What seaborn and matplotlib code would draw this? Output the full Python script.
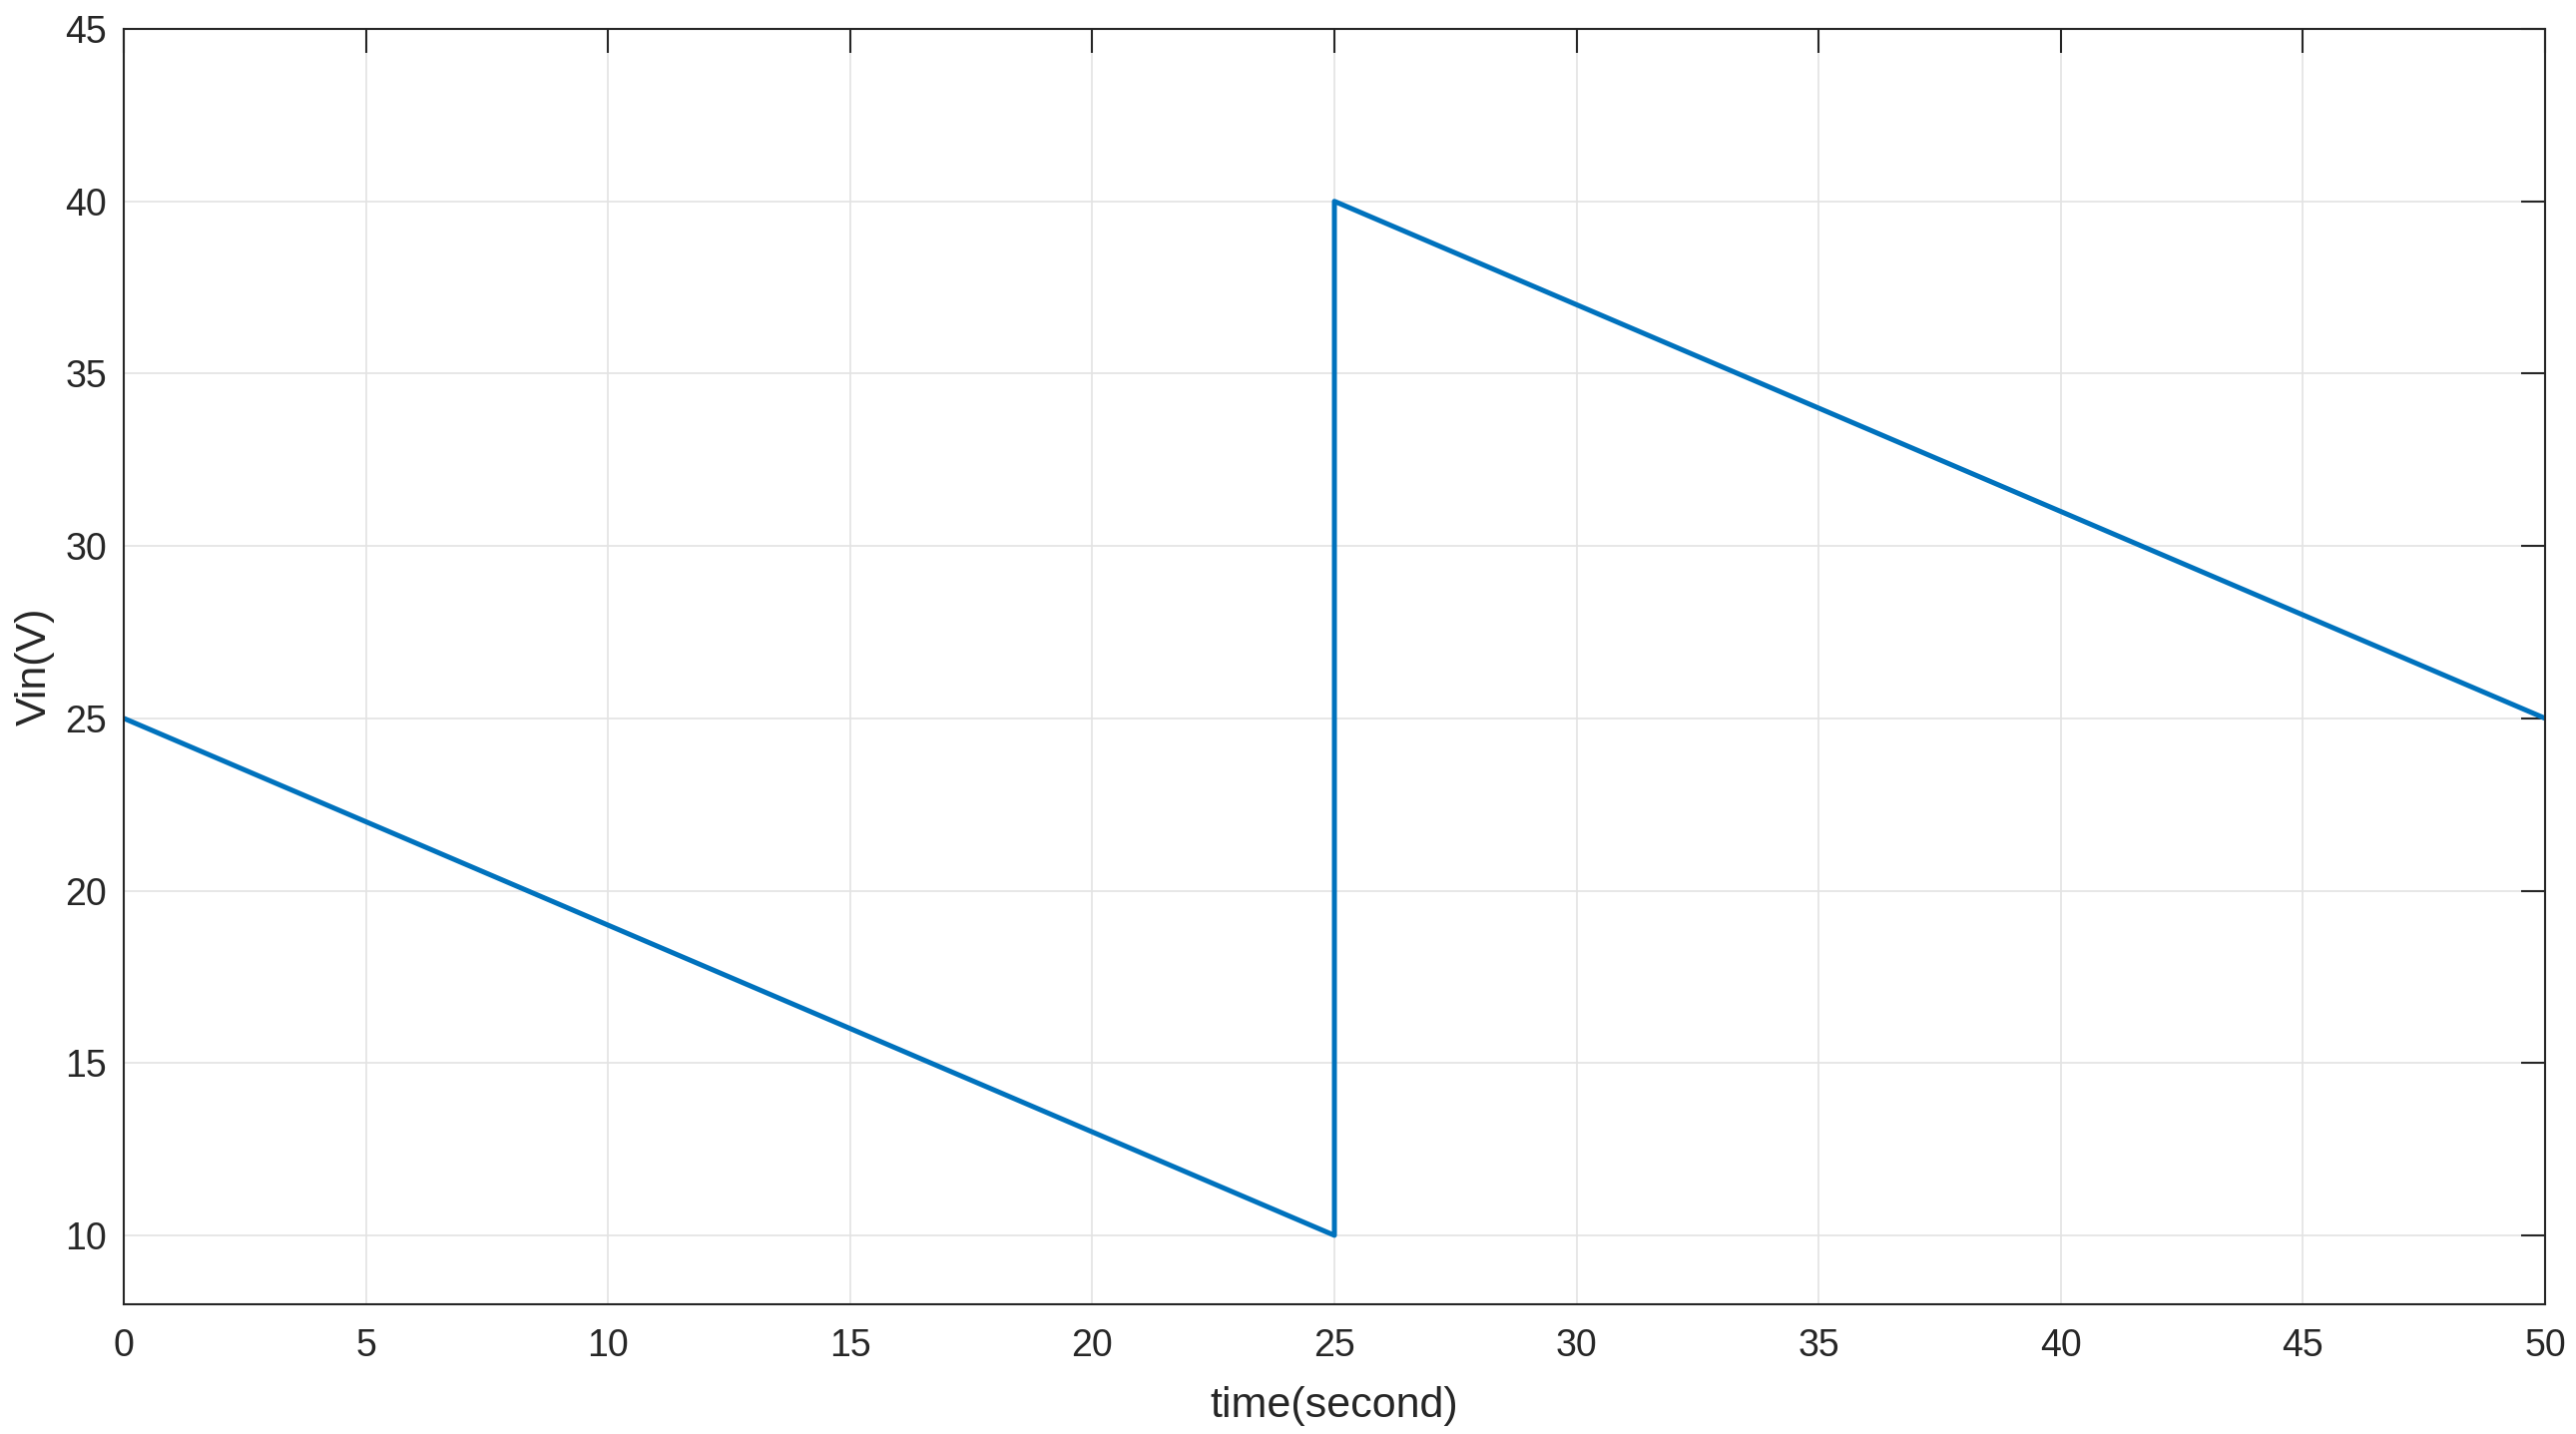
import matplotlib
matplotlib.use("Agg")
import matplotlib.pyplot as plt
import seaborn as sns
import pandas as pd

time_s = [0, 25, 25, 50]
vin_v = [25, 10, 40, 25]
x_ticks = [0, 5, 10, 15, 20, 25, 30, 35, 40, 45, 50]
y_ticks = [10, 15, 20, 25, 30, 35, 40, 45]

sns.set_theme(style="white")
plt.rcParams['font.family'] = ['Liberation Sans', 'DejaVu Sans']

df = pd.DataFrame({"time": time_s, "vin": vin_v})

fig = plt.figure(figsize=(25.81, 14.37), dpi=100)
ax = fig.add_axes([124/2581, 1 - 1307/1437, (2550-124)/2581, (1307-29)/1437])
sns.lineplot(data=df, x="time", y="vin", sort=False, estimator=None,
             color="#0072BD", linewidth=3.6, ax=ax)
ax.set_xlim(0, 50)
ax.set_ylim(8, 45)
ax.set_xticks(x_ticks)
ax.set_yticks(y_ticks)
ax.grid(True, color="#e3e3e3", linewidth=1.2)
ax.set_axisbelow(True)
for s in ax.spines.values():
    s.set_visible(True)
    s.set_color("#262626")
    s.set_linewidth(1.5)
ax.tick_params(direction="in", length=17, width=1.5, color="#262626",
               top=True, right=True, labelsize=27, labelcolor="#262626")
ax.tick_params(axis="x", pad=17)
ax.tick_params(axis="y", pad=12)
ax.set_xlabel("time(second)", fontsize=31, color="#262626", labelpad=16)
ax.set_ylabel("Vin(V)", fontsize=31, color="#262626", labelpad=8)
fig.savefig("out.png", dpi=100)
